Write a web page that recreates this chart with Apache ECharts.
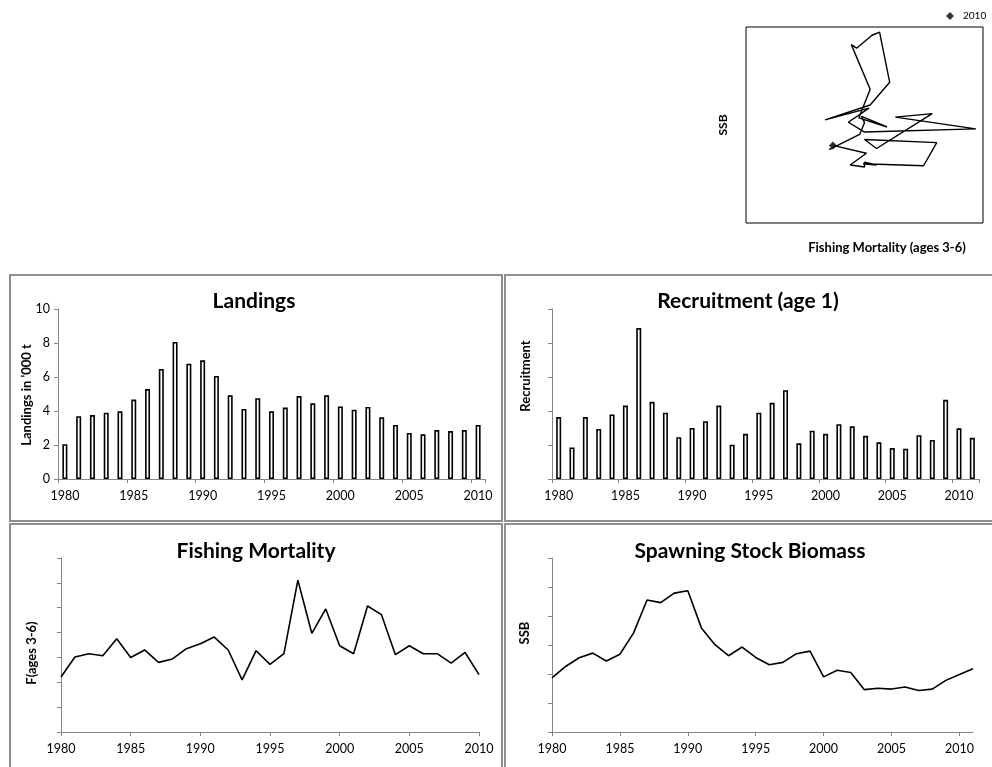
<!DOCTYPE html>
<html>
<head>
<meta charset="utf-8">
<script src="https://cdn.jsdelivr.net/npm/echarts@6/dist/echarts.min.js"></script>
<style>
  html, body { margin: 0; padding: 0; background: #fff; }
  #chart { width: 992px; height: 767px; }
</style>
</head>
<body>
<div id="chart"></div>
<script>
// Stock summary: landings, recruitment, fishing mortality, SSB and the F/SSB trajectory.
const years1980to2010 = ['1980','1981','1982','1983','1984','1985','1986','1987','1988','1989',
  '1990','1991','1992','1993','1994','1995','1996','1997','1998','1999',
  '2000','2001','2002','2003','2004','2005','2006','2007','2008','2009','2010'];
const years1980to2011 = ['1980','1981','1982','1983','1984','1985','1986','1987','1988','1989',
  '1990','1991','1992','1993','1994','1995','1996','1997','1998','1999',
  '2000','2001','2002','2003','2004','2005','2006','2007','2008','2009','2010','2011'];

// Landings in '000 t, 1980-2010
const landings = [2.05, 3.69, 3.76, 3.90, 3.98, 4.67, 5.29, 6.47, 8.06, 6.78,
  6.98, 6.06, 4.92, 4.12, 4.75, 3.98, 4.20, 4.88, 4.45, 4.92,
  4.27, 4.08, 4.24, 3.63, 3.18, 2.71, 2.63, 2.88, 2.82, 2.88, 3.18];

// Recruitment at age 1 (relative units), 1980-2011
const recruitment = [1.82, 0.93, 1.82, 1.47, 1.90, 2.16, 4.44, 2.27, 1.95, 1.23,
  1.50, 1.70, 2.16, 1.01, 1.33, 1.95, 2.24, 2.61, 1.05, 1.42,
  1.33, 1.61, 1.55, 1.27, 1.08, 0.91, 0.89, 1.29, 1.15, 2.33, 1.49, 1.21];

// Mean F, ages 3-6, 1980-2010
const fishingMortality = [0.221, 0.302, 0.315, 0.307, 0.375, 0.300, 0.330, 0.280, 0.294, 0.335,
  0.355, 0.382, 0.330, 0.210, 0.327, 0.272, 0.315, 0.611, 0.397, 0.495,
  0.347, 0.315, 0.507, 0.472, 0.311, 0.347, 0.315, 0.315, 0.277, 0.320, 0.231];

// Spawning stock biomass (relative units), 1980-2011
const ssb = [1.87, 2.26, 2.56, 2.72, 2.45, 2.68, 3.41, 4.55, 4.46, 4.79,
  4.87, 3.59, 3.01, 2.63, 2.93, 2.57, 2.32, 2.40, 2.70, 2.79,
  1.90, 2.13, 2.05, 1.46, 1.51, 1.48, 1.55, 1.43, 1.48, 1.78, 1.98, 2.18];

const highlightYear = '2010';

// F/SSB pairs for the years where both are available
const trajectory = years1980to2010.map((y, i) => [fishingMortality[i], ssb[i]]);
const hi = years1980to2010.indexOf(highlightYear);
const highlightPoint = [[fishingMortality[hi], ssb[hi]]];

const FONT = 'Lato, "Liberation Sans", sans-serif';
const AXIS_GREY = '#868686';

function catAxis(gridIndex, cats, boundaryGap) {
  return {
    type: 'category', gridIndex, data: cats, boundaryGap,
    axisLine: { lineStyle: { color: AXIS_GREY, width: 1 } },
    axisTick: { show: true, interval: 4, length: 4, lineStyle: { color: AXIS_GREY } },
    axisLabel: { interval: 4, color: '#000', fontFamily: FONT, fontSize: 12.5, margin: 10 },
    splitLine: { show: false }
  };
}
function valAxis(gridIndex, max, interval, showLabels) {
  return {
    type: 'value', gridIndex, min: 0, max, interval,
    axisLine: { show: true, lineStyle: { color: AXIS_GREY, width: 1 } },
    axisTick: { show: true, length: 4, lineStyle: { color: AXIS_GREY } },
    axisLabel: { show: showLabels, color: '#000', fontFamily: FONT, fontSize: 12.5, margin: 8 },
    splitLine: { show: false }
  };
}

function panel(x, y, w, h) {
  return { type: 'rect', shape: { x, y, width: w, height: h }, silent: true,
    style: { fill: 'none', stroke: '#8f8f8f', lineWidth: 2 } };
}
function label(text, x, y, size, rotated) {
  return { type: 'text', x, y, rotation: rotated ? Math.PI / 2 : 0, silent: true,
    style: { text, fill: '#000', font: 'bold ' + size + 'px ' + FONT, align: 'center', verticalAlign: 'middle' } };
}

const chart = echarts.init(document.getElementById('chart'), null, { renderer: 'canvas' });

chart.setOption({
  animation: false,
  backgroundColor: '#fff',
  legend: {
    data: [{ name: highlightYear, icon: 'diamond' }],
    left: 941, top: 6, itemWidth: 8, itemHeight: 8, itemGap: 4,
    textStyle: { color: '#000', fontFamily: FONT, fontSize: 10, padding: [0, 0, 0, 4] }
  },
  grid: [
    { left: 58, top: 309, width: 427, height: 170 },   // landings
    { left: 552, top: 309, width: 427, height: 170 },  // recruitment
    { left: 61, top: 558, width: 418, height: 174 },   // fishing mortality
    { left: 552, top: 558, width: 421, height: 174 },  // SSB
    { left: 746, top: 27, width: 237, height: 196, show: true, borderColor: '#000', borderWidth: 1, backgroundColor: 'transparent' } // F vs SSB
  ],
  xAxis: [
    catAxis(0, years1980to2010, true),
    catAxis(1, years1980to2011, true),
    catAxis(2, years1980to2010, false),
    catAxis(3, years1980to2011, false),
    { type: 'value', gridIndex: 4, min: 0, max: 0.63, show: false }
  ],
  yAxis: [
    valAxis(0, 10, 2, true),
    valAxis(1, 5, 1, false),
    valAxis(2, 0.7, 0.1, false),
    valAxis(3, 6, 1, false),
    { type: 'value', gridIndex: 4, min: 0, max: 5, show: false }
  ],
  series: [
    { name: 'Landings', type: 'bar', xAxisIndex: 0, yAxisIndex: 0, data: landings, barWidth: 5,
      itemStyle: { color: '#fff', borderColor: '#000', borderWidth: 1.6 } },
    { name: 'Recruitment', type: 'bar', xAxisIndex: 1, yAxisIndex: 1, data: recruitment, barWidth: 5,
      itemStyle: { color: '#fff', borderColor: '#000', borderWidth: 1.6 } },
    { name: 'F', type: 'line', xAxisIndex: 2, yAxisIndex: 2, data: fishingMortality, symbol: 'none',
      lineStyle: { color: '#000', width: 1.6 } },
    { name: 'SSB', type: 'line', xAxisIndex: 3, yAxisIndex: 3, data: ssb, symbol: 'none',
      lineStyle: { color: '#000', width: 1.6 } },
    { name: 'trajectory', type: 'line', xAxisIndex: 4, yAxisIndex: 4, data: trajectory, symbol: 'none',
      lineStyle: { color: '#000', width: 1.4 } },
    { name: highlightYear, type: 'scatter', xAxisIndex: 4, yAxisIndex: 4, data: highlightPoint,
      symbol: 'diamond', symbolSize: 8, itemStyle: { color: '#000' } }
  ],
  graphic: [
    panel(10, 275, 492, 246),
    panel(505, 275, 500, 246),
    panel(10, 524, 492, 260),
    panel(505, 524, 500, 260),
    label('Landings', 254, 301, 21),
    label('Recruitment (age 1)', 748, 301, 21),
    label('Fishing Mortality', 256, 551, 21),
    label('Spawning Stock Biomass', 750, 551, 21),
    label("Landings in '000 t", 27, 395, 13, true),
    label('Recruitment', 526, 376, 13, true),
    label('F(ages 3-6)', 32, 653, 13, true),
    label('SSB', 525, 633, 13, true),
    label('SSB', 723, 125, 12, true),
    label('Fishing Mortality (ages 3-6)', 887, 248, 13)
  ]
});
</script>
</body>
</html>
